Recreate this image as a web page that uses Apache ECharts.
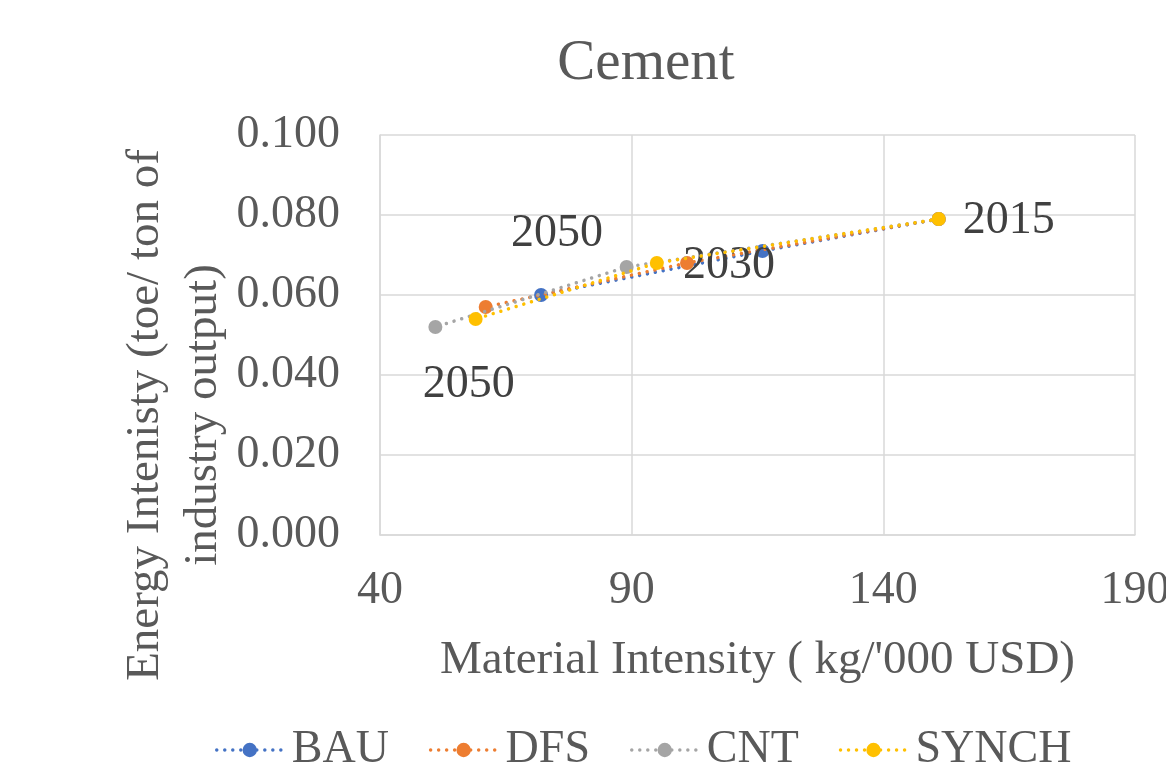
<!DOCTYPE html>
<html>
<head>
<meta charset="utf-8">
<script src="https://cdn.jsdelivr.net/npm/echarts@6/dist/echarts.min.js"></script>
<style>html,body{margin:0;padding:0;background:#fff}#c{width:1166px;height:764px}</style>
</head>
<body>
<div id="c"></div>
<script>
var years = ['2015', '2030', '2050'];
var seriesNames = ['BAU', 'DFS', 'CNT', 'SYNCH'];
var bauX = [151, 116, 72];
var bauY = [0.079, 0.071, 0.060];
var dfsX = [151, 101, 61];
var dfsY = [0.079, 0.068, 0.057];
var cntX = [151, 89, 51];
var cntY = [0.079, 0.067, 0.052];
var synchX = [151, 95, 59];
var synchY = [0.079, 0.068, 0.054];
var xTicks = [40, 90, 140, 190];
var yTicks = [0, 0.02, 0.04, 0.06, 0.08, 0.1];

var colors = ['#4472C4', '#ED7D31', '#A5A5A5', '#FFC000'];
var FONT = '"Liberation Serif", "Times New Roman", serif';
var TXT = '#595959';

// which points carry a year label, and where it sits
var labelSpec = {
  'DFS': {1: [42, 3]},
  'BAU': {2: [16, -61]},
  'SYNCH': {0: [70, 2], 2: [-7, 66]}
};

function build(name, xs, ys, idx) {
  var data = xs.map(function (x, i) {
    var item = {value: [x, ys[i]], name: years[i]};
    var spec = labelSpec[name];
    if (spec && spec[i]) {
      item.label = {
        show: true, position: 'inside', offset: spec[i],
        formatter: years[i], fontFamily: FONT, fontSize: 46, color: '#404040'
      };
    }
    return item;
  });
  return {
    name: name, type: 'line', data: data, color: colors[idx],
    symbol: 'circle', symbolSize: 14,
    itemStyle: {color: colors[idx]},
    lineStyle: {width: 3.5, type: [0.01, 8], cap: 'round', color: colors[idx]},
    label: {show: false},
    z: 2 + idx
  };
}

var chart = echarts.init(document.getElementById('c'));
chart.setOption({
  animation: false,
  backgroundColor: '#fff',
  title: {
    text: 'Cement', left: 641, textAlign: 'center', top: 31,
    textStyle: {fontFamily: FONT, fontSize: 57, fontWeight: 'normal', color: TXT}
  },
  grid: {left: 380, top: 135, right: 31, bottom: 229, containLabel: false, outerBoundsMode: 'none'},
  xAxis: {
    type: 'value', min: xTicks[0], max: xTicks[xTicks.length - 1], interval: 50,
    name: "Material Intensity ( kg/'000 USD)", nameLocation: 'middle', nameGap: 102,
    nameMoveOverlap: false,
    nameTextStyle: {fontFamily: FONT, fontSize: 47, color: TXT},
    axisLine: {show: true, lineStyle: {color: '#d9d9d9', width: 1.5}},
    axisTick: {show: false},
    axisLabel: {fontFamily: FONT, fontSize: 46, color: TXT, margin: 33},
    splitLine: {show: true, lineStyle: {color: '#d9d9d9', width: 1.5}}
  },
  yAxis: {
    type: 'value', min: yTicks[0], max: yTicks[yTicks.length - 1], interval: 0.02,
    axisLine: {show: true, lineStyle: {color: '#d9d9d9', width: 1.5}},
    axisTick: {show: false},
    axisLabel: {fontFamily: FONT, fontSize: 46, color: TXT, margin: 40,
      formatter: function (v) { return v.toFixed(3); }},
    splitLine: {show: true, lineStyle: {color: '#d9d9d9', width: 1.5}}
  },
  legend: {
    top: 722, left: 210, itemWidth: 66, itemHeight: 18, itemGap: 40,
    data: seriesNames,
    lineStyle: {width: 3.5, type: [0.01, 8], cap: 'round'},
    textStyle: {fontFamily: FONT, fontSize: 46, color: TXT, padding: [0, 0, 0, 4]}
  },
  graphic: [{
    type: 'text', x: 175, y: 415, rotation: Math.PI / 2,
    style: {
      text: 'Energy Intenisty (toe/ ton of\nindustry output)',
      font: '47px ' + FONT, fill: TXT, align: 'center', verticalAlign: 'middle',
      lineHeight: 58
    }
  }],
  series: [
    build('BAU', bauX, bauY, 0),
    build('DFS', dfsX, dfsY, 1),
    build('CNT', cntX, cntY, 2),
    build('SYNCH', synchX, synchY, 3)
  ]
});
</script>
</body>
</html>
